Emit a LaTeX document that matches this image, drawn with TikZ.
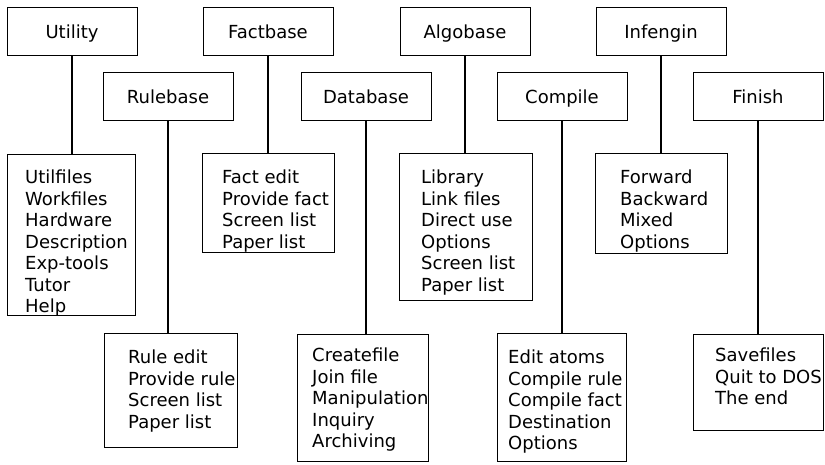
\documentclass[tikz,border=0pt]{standalone}
\usepackage{fontspec}
\setmainfont{DejaVu Sans}
\usetikzlibrary{positioning}

\begin{document}
\begin{tikzpicture}[
  x=1pt, y=-1pt,
  menu/.style={rectangle, draw=black, line width=0.9pt, minimum width=130pt, minimum height=48pt, inner sep=0pt, text height=14pt, text depth=0pt, font=\fontsize{18}{21.5}\selectfont},
  listbox/.style={rectangle, draw=black, line width=0.9pt, anchor=north west, inner sep=0pt},
  items/.style={align=left, inner sep=0pt, font=\fontsize{18}{21.5}\selectfont},
  link/.style={line width=2.4pt}
]
\useasboundingbox (0,0) rectangle (825,464);

% Menu boxes
\node (utility) [menu] at (72,31) {Utility};
\node (factbase) [menu] at (268,31) {Factbase};
\node (algobase) [menu] at (465,31) {Algobase};
\node (infengin) [menu] at (661,31) {Infengin};
\node (rulebase) [menu] at (168,96.5) {Rulebase};
\node (database) [menu] at (366,96.5) {Database};
\node (compile) [menu] at (562,96.5) {Compile};
\node (finish) [menu] at (758,96.5) {Finish};

% Submenu boxes
\node (utillist) [listbox, minimum width=128pt, minimum height=161pt] at (7,154) {};
\node (factlist) [listbox, minimum width=132pt, minimum height=99pt] at (202,153) {};
\node (algolist) [listbox, minimum width=133pt, minimum height=147pt] at (399,153) {};
\node (inflist) [listbox, minimum width=132pt, minimum height=100pt] at (595,153) {};
\node (rulelist) [listbox, minimum width=133pt, minimum height=114pt] at (104,333) {};
\node (datalist) [listbox, minimum width=131pt, minimum height=127pt] at (297,334) {};
\node (complist) [listbox, minimum width=129pt, minimum height=128pt] at (497,333) {};
\node (finlist) [listbox, minimum width=130pt, minimum height=96pt] at (693,334) {};

% Submenu entries
\node (utilitems) [items, below right=16pt and 18pt of utillist.north west] {Utilfiles\\Workfiles\\Hardware\\Description\\Exp-tools\\Tutor\\Help};
\node (factitems) [items, below right=17pt and 20pt of factlist.north west] {Fact edit\\Provide fact\\Screen list\\Paper list};
\node (algoitems) [items, below right=17pt and 22pt of algolist.north west] {Library\\Link files\\Direct use\\Options\\Screen list\\Paper list};
\node (infitems) [items, below right=17pt and 25pt of inflist.north west] {Forward\\Backward\\Mixed\\Options};
\node (ruleitems) [items, below right=17pt and 24pt of rulelist.north west] {Rule edit\\Provide rule\\Screen list\\Paper list};
\node (dataitems) [items, below right=14pt and 15pt of datalist.north west] {Createfile\\Join file\\Manipulation\\Inquiry\\Archiving};
\node (compitems) [items, below right=17pt and 11pt of complist.north west] {Edit atoms\\Compile rule\\Compile fact\\Destination\\Options};
\node (finitems) [items, below right=14pt and 22pt of finlist.north west] {Savefiles\\Quit to DOS\\The end};

% Links
\draw [link] (utility.south) -- (utility.south |- utillist.north);
\draw [link] (factbase.south) -- (factbase.south |- factlist.north);
\draw [link] (algobase.south) -- (algobase.south |- algolist.north);
\draw [link] (infengin.south) -- (infengin.south |- inflist.north);
\draw [link] (rulebase.south) -- (rulebase.south |- rulelist.north);
\draw [link] (database.south) -- (database.south |- datalist.north);
\draw [link] (compile.south) -- (compile.south |- complist.north);
\draw [link] (finish.south) -- (finish.south |- finlist.north);
\end{tikzpicture}
\end{document}
